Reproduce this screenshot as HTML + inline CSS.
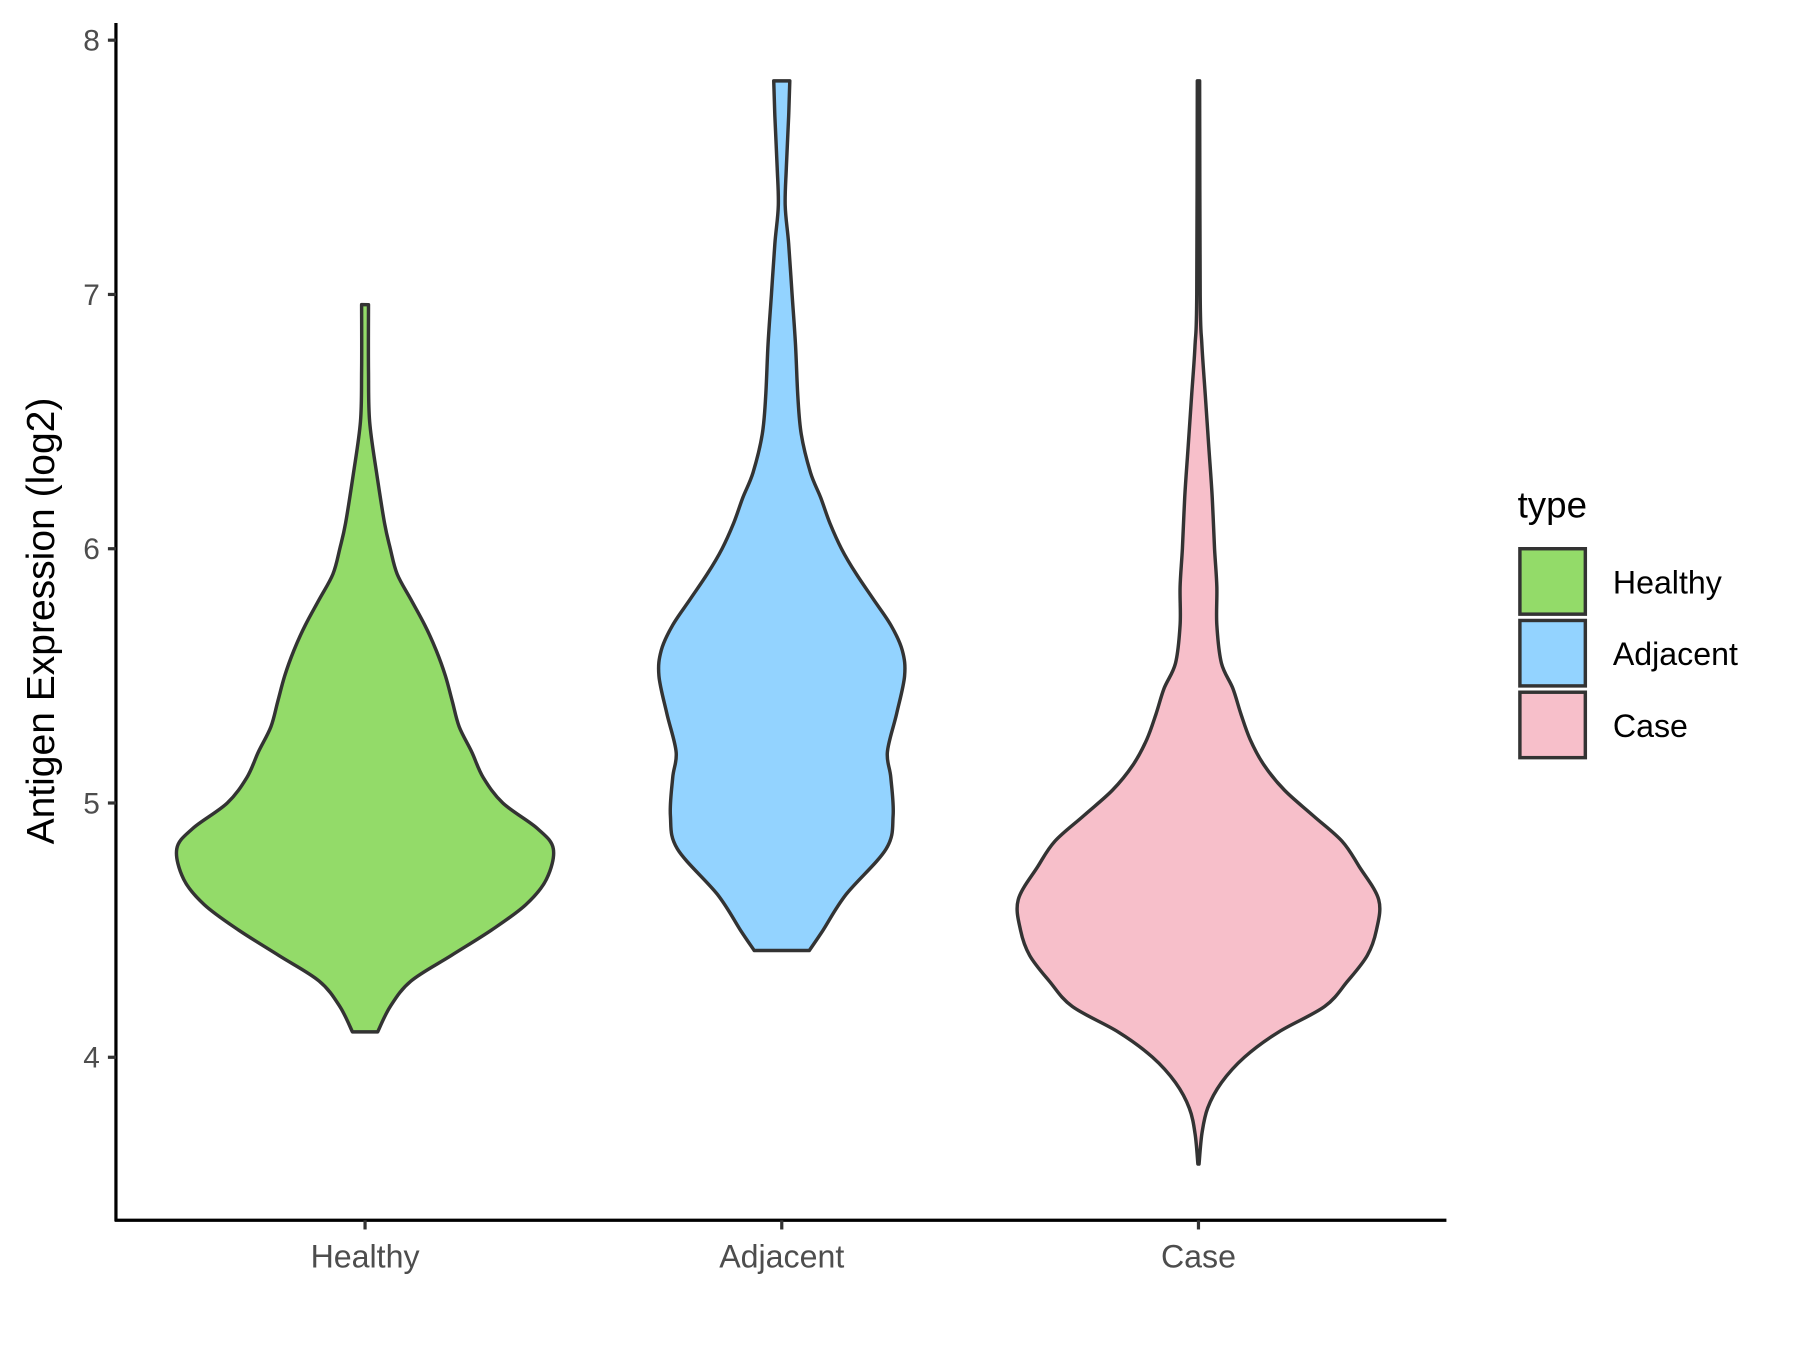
<!DOCTYPE html>
<html><head><meta charset="utf-8"><style>
html,body{margin:0;padding:0;background:#fff;}
text{font-family:"Liberation Sans",Arial,sans-serif;}
</style></head><body>
<svg id="chart" width="1800" height="1350" viewBox="0 0 1568 1176" xmlns="http://www.w3.org/2000/svg">
<rect width="1568" height="1176" fill="#fff"/>
<g id="violins"></g>
<line x1="101" y1="20" x2="101" y2="1064" stroke="#000" stroke-width="2.8"/>
<line x1="100" y1="1063" x2="1260" y2="1063" stroke="#000" stroke-width="2.8"/>
<g id="yticks"></g>
<g id="xticks"></g>
<text transform="translate(47,541) rotate(-90)" text-anchor="middle" font-size="34" fill="#000">Antigen Expression (log2)</text>
<g>
<text x="1322" y="451" font-size="32" fill="#000">type</text>
<g id="legend-items"></g>
</g>
</svg>
<script>
const categories = ["Healthy","Adjacent","Case"];
const colors = ["#93DB69","#93D3FF","#F7BFCA"];
const yTicks = [4,5,6,7,8];
const healthyY = [4.10,4.2,4.3,4.4,4.5,4.6,4.7,4.82,4.9,5.0,5.1,5.2,5.3,5.4,5.5,5.6,5.7,5.8,5.9,6.0,6.1,6.3,6.5,6.7,6.96];
const healthyW = [11,22,40,75,110,140,158,164,150,120,103,93,82,76,70,62,52,40,28,22,17,10,4,3,3];
const adjacentY = [4.42,4.5,4.64,4.82,4.95,5.1,5.2,5.35,5.5,5.6,5.7,5.8,5.9,6.0,6.1,6.2,6.3,6.45,6.6,6.8,7.0,7.2,7.35,7.5,7.7,7.84];
const adjacentW = [24,36,56,91,97,95,92,100,107,105,95,80,65,52,42,34,25,17,14,12,9,6,3,4,6,7];
const caseY = [3.58,3.7,3.8,3.9,4.0,4.1,4.2,4.3,4.4,4.5,4.62,4.75,4.85,4.95,5.05,5.15,5.25,5.35,5.45,5.55,5.7,5.85,6.0,6.2,6.4,6.6,6.8,7.0,7.84];
const caseW = [0.5,3,8,20,40,70,110,130,147,155,157,140,125,100,75,57,45,37,30,20,16,16,14,12,9,6,3,1.5,1];
const seriesY=[healthyY,adjacentY,caseY], seriesW=[healthyW,adjacentW,caseW];

const NS="http://www.w3.org/2000/svg";
function yScale(v){return 35+(8-v)*221.5;}
function xScale(i){return 318+i*363;}
function wScale(w){return w;}
function mk(t,p,a){const e=document.createElementNS(NS,t);for(const k in a)e.setAttribute(k,a[k]);p.appendChild(e);return e;}
function smooth(pts){
  let d="M"+pts[0][0]+","+pts[0][1];
  for(let i=0;i<pts.length-1;i++){
    const p0=pts[Math.max(0,i-1)],p1=pts[i],p2=pts[i+1],p3=pts[Math.min(pts.length-1,i+2)];
    const c1=[p1[0]+(p2[0]-p0[0])/6,p1[1]+(p2[1]-p0[1])/6];
    const c2=[p2[0]-(p3[0]-p1[0])/6,p2[1]-(p3[1]-p1[1])/6];
    d+=" C"+c1[0].toFixed(1)+","+c1[1].toFixed(1)+" "+c2[0].toFixed(1)+","+c2[1].toFixed(1)+" "+p2[0].toFixed(1)+","+p2[1].toFixed(1);
  }
  return d;
}
const vg=document.getElementById("violins");
categories.forEach((c,i)=>{
  const cx=xScale(i), ys=seriesY[i], ws=seriesW[i];
  const right=ys.map((v,k)=>[cx+wScale(ws[k]),yScale(v)]);
  const left=ys.map((v,k)=>[cx-wScale(ws[k]),yScale(v)]).reverse();
  let d=smooth(right);
  d+=" L"+left[0][0]+","+left[0][1]+" "+smooth(left).slice(1).replace(/^[^C]*/,"")+" Z";
  const p=mk("path",vg,{d:d,fill:colors[i],stroke:"#333","stroke-width":3,"stroke-linejoin":"round"});
  
  
});
const yt=document.getElementById("yticks");
yTicks.forEach(t=>{
  const y=yScale(t);
  const l=mk("line",yt,{x1:94,x2:101,y1:y,y2:y,stroke:"#333","stroke-width":2.8});
  
  
  const tx=mk("text",yt,{x:87,y:y+9,"text-anchor":"end","font-size":26,fill:"#4d4d4d"});
  tx.textContent=t;
  
  
});
const xt=document.getElementById("xticks");
categories.forEach((c,i)=>{
  const x=xScale(i);
  const l=mk("line",xt,{x1:x,x2:x,y1:1063,y2:1071,stroke:"#333","stroke-width":2.8});
  
  
  const tx=mk("text",xt,{x:x,y:1104,"text-anchor":"middle","font-size":28,fill:"#4d4d4d"});
  tx.textContent=c;
  
  
});
const lg=document.getElementById("legend-items");
categories.forEach((c,i)=>{
  const y=478+i*62.5;
  const r=mk("rect",lg,{x:1324,y:y,width:57,height:57,fill:colors[i],stroke:"#333","stroke-width":3});
  
  
  const tx=mk("text",lg,{x:1405,y:y+39,"font-size":28,fill:"#000"});
  tx.textContent=c;
  
  
});
</script>
</body></html>
